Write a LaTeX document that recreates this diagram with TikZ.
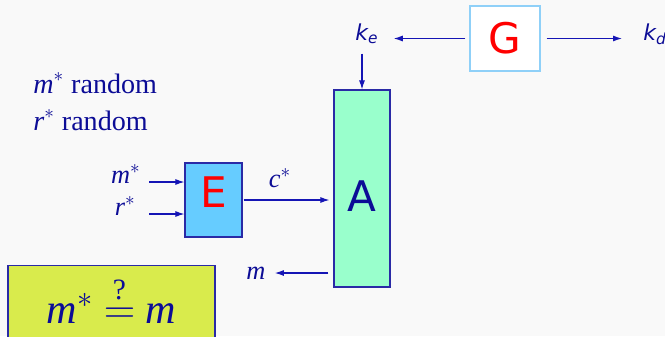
\documentclass[tikz,border=0pt]{standalone}
\usepackage{fontspec}
\usepackage{amsmath}
\setmainfont{Liberation Serif}
\setsansfont{DejaVu Sans}
\usetikzlibrary{arrows.meta, positioning}
\definecolor{pback}{HTML}{F9F9F9}
\definecolor{dblue}{HTML}{0C0C96}
\definecolor{lblue}{HTML}{1515B5}
\definecolor{bedge}{HTML}{2A2AA6}
\definecolor{gedge}{HTML}{8FD0F8}
\definecolor{ered}{HTML}{FF0000}
\definecolor{efill}{HTML}{66CCFF}
\definecolor{afill}{HTML}{99FFCC}
\definecolor{qfill}{HTML}{D9EB4C}
\tikzset{
  box/.style={rectangle, draw=bedge, line width=0.7pt, inner sep=0pt},
  bigletter/.style={inner sep=0pt, font=\sffamily\fontsize{24}{24}\selectfont},
  keybox/.style={box, draw=gedge, fill=white, text=ered, bigletter,
                 minimum width=1.4cm, minimum height=1.3cm},
  lbl/.style={inner sep=0pt, text=dblue, font=\fontsize{15}{18}\selectfont},
  note/.style={inner sep=0pt, text=dblue, font=\fontsize{16}{19}\selectfont},
  klbl/.style={inner sep=0pt, text=dblue, font=\sffamily\itshape\fontsize{12.5}{14}\selectfont},
  flow/.style={-{Latex[length=1.8mm, width=1.2mm]}, draw=lblue, line width=0.6pt}
}

\begin{document}
\begin{tikzpicture}[x=0.02cm, y=-0.02cm]
  \path[use as bounding box, fill=pback] (0,0) rectangle (665,336);

  % key generation
  \node[keybox] (G) at (505,38.5) {G};
  \node[klbl, anchor=base west] (ke) at (355,40) {k\textsubscript{e}};
  \node[klbl, anchor=base west] (kd) at (643,40) {k\textsubscript{d}};

  % encryption and adversary
  \node[box, fill=efill, minimum width=1.14cm, minimum height=1.48cm,
        label={[bigletter, text=ered, yshift=0.16cm]center:E}] (E) at (213.5,200) {};
  \node[box, fill=afill, minimum width=1.12cm, minimum height=3.94cm,
        label={[bigletter, text=dblue, yshift=-0.15cm]center:A}] (A) at (362,188.5) {};

  \node[note, anchor=base west] (mrand) at (33,93) {\textit{m}$^{*}$ random};
  \node[note, anchor=base west] (rrand) at (33,130) {\textit{r}$^{*}$ random};

  \node[lbl, anchor=base east] (mstar) at (141,183) {\textit{m}$^{*}$};
  \node[lbl, anchor=base east] (rstar) at (136,215) {\textit{r}$^{*}$};
  \node[lbl, anchor=base] (cstar) at (280,187) {\textit{c}$^{*}$};
  \node[lbl, anchor=base] (mout) at (256,279) {\textit{m}};

  % the test
  \node[box, fill=qfill, anchor=north, minimum width=4.14cm, minimum height=1.6cm,
        label={[inner sep=0pt, text=dblue, font=\fontsize{24}{28}\selectfont, yshift=0.12cm]center:%
        \textit{m}$^{*}$ $\stackrel{\text{?}}{=}$ \textit{m}}] (check) at (111.5,265) {};

  \coordinate (mtail) at (149,182);
  \coordinate (rtail) at (149,214);

  \draw[flow, shorten <=0.08cm, shorten >=0.3cm] (G.west) -- (G.west -| ke.east);
  \draw[flow, shorten <=0.12cm, shorten >=0.42cm] (G.east) -- (G.east -| kd.west);
  \draw[flow, shorten <=0.2cm] (ke.south -| A.north) -- (A.north);
  \draw[flow] (mtail) -- (mtail -| E.west);
  \draw[flow] (rtail) -- (rtail -| E.west);
  \draw[flow, shorten <=0.02cm, shorten >=0.08cm] (E.east) -- (E.east -| A.west);
  \draw[flow, shorten <=0.1cm, shorten >=0.18cm] (A.west |- 0,273) -- (mout.east |- 0,273);
\end{tikzpicture}
\end{document}
